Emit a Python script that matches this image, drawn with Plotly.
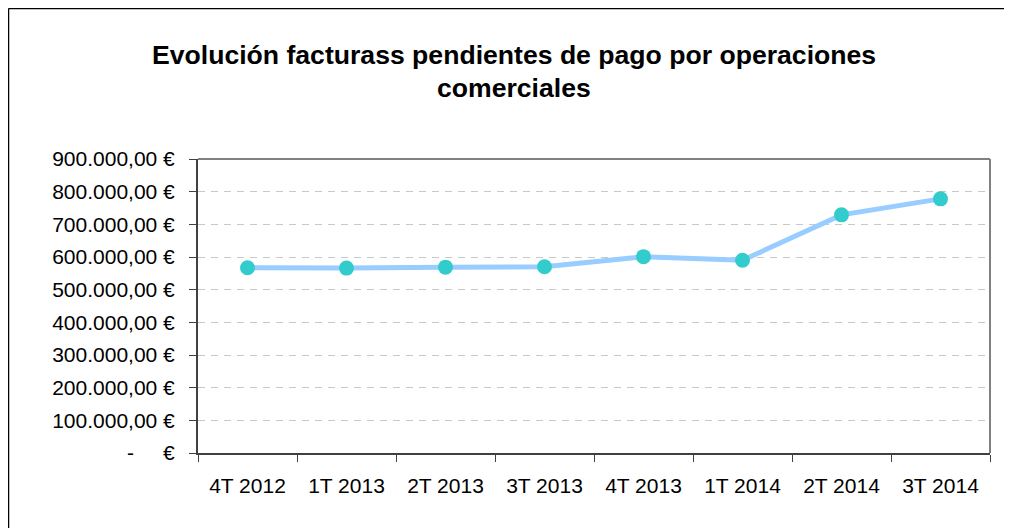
import plotly.graph_objects as go

categories = ["4T 2012", "1T 2013", "2T 2013", "3T 2013", "4T 2013", "1T 2014", "2T 2014", "3T 2014"]
values = [567000, 566000, 569000, 570000, 601000, 590000, 729000, 778000]
y_tickvals = [0, 100000, 200000, 300000, 400000, 500000, 600000, 700000, 800000, 900000]
y_ticktext = ["-" + "\u00a0" * 5 + "€", "100.000,00 €", "200.000,00 €", "300.000,00 €",
              "400.000,00 €", "500.000,00 €", "600.000,00 €", "700.000,00 €", "800.000,00 €", "900.000,00 €"]
title_lines = ["Evolución facturass pendientes de pago por operaciones", "comerciales"]

W, H = 1012, 528
OFF = 8  # page body margin
L, R, T, B = 198 - OFF, 990 - OFF, 159 - OFF, 453 - OFF

fig = go.Figure()
fig.add_trace(go.Scatter(
    x=categories, y=values, mode="lines+markers",
    line=dict(color="#99CCFF", width=5),
    marker=dict(color="#33CCCC", size=15),
    showlegend=False, hoverinfo="x+y"))

font_main = "Liberation Sans, Arial, sans-serif"

fig.update_layout(
    width=W, height=H,
    margin=dict(l=L, r=W - R, t=T, b=H - B, pad=0),
    paper_bgcolor="white", plot_bgcolor="white",
    font=dict(family=font_main, size=21, color="black"),
    xaxis=dict(type="category", range=[-0.5, 7.5], tickson="boundaries",
               ticks="outside", ticklen=7, tickcolor="#404040", tickwidth=1,
               showline=True, linecolor="#404040", linewidth=2,
               showgrid=False, zeroline=False, ticklabelstandoff=13,
               tickfont=dict(size=21, family=font_main, color="black")),
    yaxis=dict(range=[0, 900000], tickvals=y_tickvals, ticktext=y_ticktext,
               ticks="outside", ticklen=7, tickcolor="#404040", tickwidth=1,
               showline=True, linecolor="#404040", linewidth=2,
               showgrid=True, gridcolor="#C8C8C8", gridwidth=1, griddash="7px,6px",
               zeroline=False, ticklabelstandoff=10,
               tickfont=dict(size=21, family=font_main, color="black")),
)

def px_x(p):
    return (p - OFF - L) / (R - L)

def px_y(p):
    return (B - (p - OFF)) / (B - T)

# top and right plot frame (gray)
fig.add_shape(type="line", xref="paper", yref="paper", x0=0, x1=1, y0=1, y1=1,
              line=dict(color="#808080", width=2))
fig.add_shape(type="line", xref="paper", yref="paper", x0=1, x1=1, y0=0, y1=1,
              line=dict(color="#808080", width=2))
# outer chart frame (left & top visible)
fig.add_shape(type="line", xref="paper", yref="paper", x0=px_x(8.5), x1=px_x(8.5), y0=px_y(545), y1=px_y(8.5),
              line=dict(color="black", width=1.5))
fig.add_shape(type="line", xref="paper", yref="paper", x0=px_x(8.5), x1=px_x(1030), y0=px_y(8.5), y1=px_y(8.5),
              line=dict(color="black", width=1.5))

fig.add_annotation(x=px_x(514), y=px_y(55), xref="paper", yref="paper", text=f"<b>{title_lines[0]}</b>",
                   showarrow=False, font=dict(size=26.6, family=font_main, color="black"),
                   xanchor="center", yanchor="middle")
fig.add_annotation(x=px_x(514), y=px_y(88), xref="paper", yref="paper", text=f"<b>{title_lines[1]}</b>",
                   showarrow=False, font=dict(size=26.6, family=font_main, color="black"),
                   xanchor="center", yanchor="middle")

fig.write_html("out.html")
